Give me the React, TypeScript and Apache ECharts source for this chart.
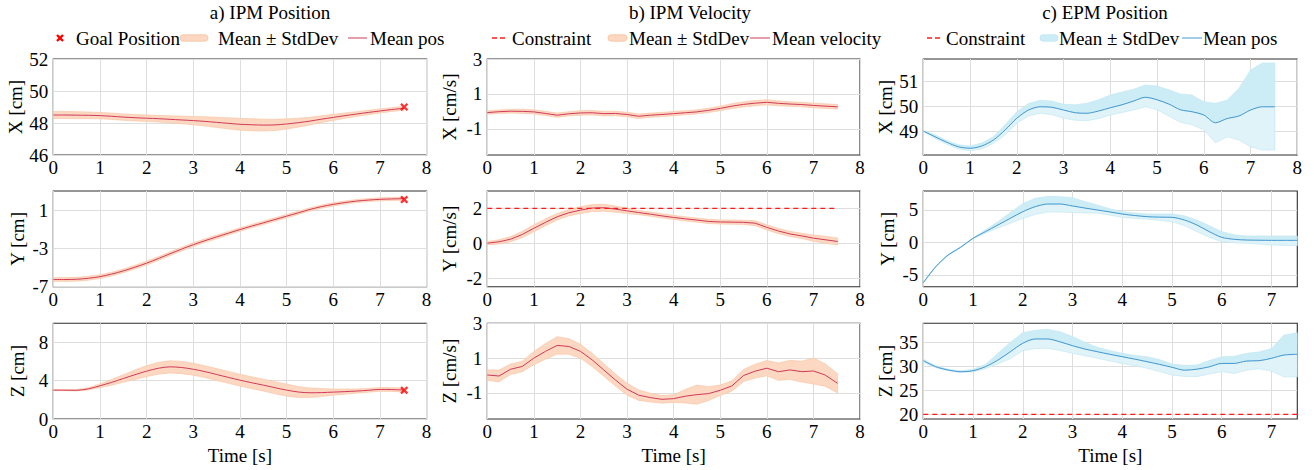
import React, { useEffect, useRef } from 'react';
import * as echarts from 'echarts';

// ---------- data ----------
const T = [0, 0.25, 0.5, 0.75, 1, 1.25, 1.5, 1.75, 2, 2.25, 2.5, 2.75, 3, 3.25, 3.5, 3.75, 4, 4.25, 4.5, 4.75, 5, 5.25, 5.5, 5.75, 6, 6.25, 6.5, 6.75, 7, 7.25, 7.52];

// a) IPM position
const IPM_X_MEAN = [48.5, 48.5, 48.49, 48.48, 48.46, 48.42, 48.37, 48.33, 48.3, 48.27, 48.23, 48.19, 48.15, 48.1, 48.04, 47.98, 47.92, 47.89, 47.87, 47.88, 47.94, 48.02, 48.12, 48.24, 48.35, 48.46, 48.56, 48.66, 48.75, 48.84, 48.92];
const IPM_X_STD = [0.22, 0.22, 0.22, 0.21, 0.2, 0.2, 0.2, 0.2, 0.2, 0.21, 0.22, 0.24, 0.26, 0.29, 0.32, 0.35, 0.37, 0.38, 0.37, 0.35, 0.32, 0.28, 0.24, 0.21, 0.19, 0.17, 0.15, 0.14, 0.13, 0.12, 0.12];
const IPM_Y_MEAN = [-6.25, -6.25, -6.22, -6.12, -5.95, -5.68, -5.35, -4.96, -4.54, -4.06, -3.56, -3.07, -2.61, -2.19, -1.8, -1.41, -1.03, -0.67, -0.33, 0.02, 0.37, 0.72, 1.07, 1.37, 1.6, 1.79, 1.95, 2.05, 2.13, 2.17, 2.2];
const IPM_Y_STD = [0.2, 0.2, 0.2, 0.2, 0.2, 0.2, 0.2, 0.2, 0.2, 0.2, 0.2, 0.2, 0.19, 0.19, 0.19, 0.19, 0.18, 0.18, 0.18, 0.18, 0.18, 0.17, 0.17, 0.17, 0.17, 0.16, 0.16, 0.16, 0.16, 0.16, 0.16];
const IPM_Z_MEAN = [3.02, 3.01, 3.0, 3.15, 3.47, 3.83, 4.23, 4.63, 5.0, 5.3, 5.45, 5.38, 5.2, 4.95, 4.65, 4.35, 4.06, 3.79, 3.54, 3.27, 3.02, 2.82, 2.74, 2.76, 2.81, 2.86, 2.92, 3.0, 3.09, 3.08, 3.02];
const IPM_Z_STD = [0.05, 0.05, 0.07, 0.12, 0.2, 0.3, 0.4, 0.5, 0.57, 0.62, 0.64, 0.64, 0.63, 0.62, 0.62, 0.62, 0.62, 0.62, 0.62, 0.63, 0.63, 0.58, 0.5, 0.42, 0.32, 0.27, 0.22, 0.2, 0.2, 0.2, 0.2];
const GOAL_T = 7.52;
const GOAL_X = 49.0;
const GOAL_Y = 2.1;
const GOAL_Z = 3.0;

// b) IPM velocity
const VEL_X_MEAN = [-0.07, -0.02, 0.01, 0.0, -0.03, -0.12, -0.22, -0.14, -0.09, -0.08, -0.13, -0.12, -0.18, -0.28, -0.22, -0.18, -0.13, -0.08, -0.03, 0.06, 0.17, 0.3, 0.4, 0.47, 0.52, 0.46, 0.42, 0.39, 0.34, 0.3, 0.26];
const VEL_X_STD = [0.1, 0.1, 0.11, 0.12, 0.12, 0.12, 0.12, 0.12, 0.13, 0.13, 0.13, 0.13, 0.13, 0.13, 0.12, 0.12, 0.12, 0.12, 0.12, 0.12, 0.13, 0.14, 0.15, 0.15, 0.15, 0.14, 0.13, 0.13, 0.13, 0.13, 0.13];
const VEL_Y_MEAN = [0.0, 0.08, 0.23, 0.5, 0.86, 1.2, 1.52, 1.75, 1.9, 2.02, 2.04, 1.96, 1.86, 1.76, 1.67, 1.57, 1.48, 1.4, 1.33, 1.25, 1.22, 1.21, 1.2, 1.15, 0.91, 0.7, 0.53, 0.42, 0.29, 0.2, 0.1];
const VEL_Y_STD = [0.1, 0.12, 0.15, 0.18, 0.2, 0.2, 0.18, 0.18, 0.2, 0.2, 0.2, 0.18, 0.15, 0.12, 0.12, 0.12, 0.12, 0.12, 0.12, 0.12, 0.12, 0.12, 0.12, 0.14, 0.15, 0.15, 0.15, 0.15, 0.18, 0.2, 0.2];
const VEL_Z_MEAN = [0.03, -0.03, 0.36, 0.52, 1.0, 1.39, 1.73, 1.67, 1.39, 0.9, 0.32, -0.26, -0.79, -1.13, -1.27, -1.37, -1.33, -1.19, -1.1, -1.04, -0.85, -0.6, 0.0, 0.25, 0.42, 0.22, 0.32, 0.22, 0.26, 0.03, -0.45];
const VEL_Z_STD = [0.3, 0.34, 0.3, 0.3, 0.38, 0.45, 0.5, 0.45, 0.4, 0.38, 0.36, 0.35, 0.34, 0.3, 0.25, 0.22, 0.22, 0.39, 0.55, 0.4, 0.3, 0.3, 0.35, 0.4, 0.44, 0.5, 0.55, 0.6, 0.75, 0.65, 0.55];
const VEL_CONSTRAINT_Y = 2;

// c) EPM position
const EPM_X_MEAN = [49.0, 48.77, 48.55, 48.37, 48.31, 48.4, 48.64, 49.04, 49.51, 49.84, 49.97, 49.95, 49.84, 49.73, 49.71, 49.8, 49.93, 50.05, 50.2, 50.35, 50.25, 50.08, 49.85, 49.77, 49.64, 49.33, 49.5, 49.6, 49.84, 49.97, 49.97];
const EPM_X_HI = [49.02, 48.85, 48.62, 48.45, 48.4, 48.52, 48.77, 49.25, 49.77, 50.1, 50.23, 50.2, 50.07, 50.05, 50.11, 50.25, 50.44, 50.56, 50.67, 50.84, 50.8, 50.65, 50.48, 50.44, 50.17, 50.11, 50.24, 50.7, 51.44, 51.72, 51.72];
const EPM_X_LO = [48.98, 48.7, 48.47, 48.28, 48.21, 48.28, 48.5, 48.85, 49.31, 49.6, 49.71, 49.65, 49.51, 49.43, 49.41, 49.5, 49.64, 49.74, 49.84, 49.97, 49.85, 49.6, 49.35, 49.25, 49.04, 48.53, 48.77, 48.64, 48.37, 48.24, 48.24];
const EPM_Y_MEAN = [-6.18, -3.72, -1.92, -0.74, 0.64, 1.67, 2.69, 3.72, 4.74, 5.51, 5.92, 5.92, 5.62, 5.3, 5.0, 4.7, 4.38, 4.15, 3.97, 3.9, 3.87, 3.46, 2.69, 1.67, 0.79, 0.49, 0.38, 0.35, 0.33, 0.33, 0.33];
const EPM_Y_HI = [-6.1, -3.65, -1.85, -0.65, 0.7, 1.95, 3.2, 4.6, 6.0, 6.8, 7.1, 7.05, 6.9, 6.3, 5.77, 5.2, 4.74, 4.55, 4.4, 4.4, 4.4, 4.1, 3.46, 2.6, 1.67, 1.2, 1.0, 1.0, 1.0, 1.0, 1.0];
const EPM_Y_LO = [-6.25, -3.8, -2.0, -0.82, 0.58, 1.45, 2.2, 2.95, 3.7, 4.3, 4.7, 4.7, 4.6, 4.55, 4.5, 4.2, 3.87, 3.7, 3.6, 3.4, 3.2, 2.6, 1.67, 0.8, 0.13, -0.05, -0.13, -0.25, -0.38, -0.45, -0.5];
const EPM_Z_MEAN = [31.17, 29.92, 29.23, 28.88, 29.08, 29.92, 31.3, 33.04, 34.8, 35.7, 35.7, 35.1, 34.3, 33.6, 33.04, 32.5, 32.0, 31.5, 30.96, 30.4, 29.8, 29.2, 29.4, 29.9, 30.6, 30.6, 31.1, 31.17, 31.67, 32.35, 32.5];
const EPM_Z_HI = [31.5, 30.1, 29.4, 29.05, 29.35, 30.4, 32.7, 35.0, 37.0, 37.5, 37.7, 37.2, 36.2, 35.0, 33.96, 33.3, 32.7, 32.3, 32.0, 31.4, 30.5, 30.2, 30.27, 31.2, 32.0, 32.1, 32.7, 33.0, 33.7, 36.5, 37.0];
const EPM_Z_LO = [30.8, 29.7, 29.05, 28.7, 28.85, 29.5, 30.5, 31.6, 33.25, 33.7, 33.75, 33.3, 32.7, 32.2, 31.67, 31.1, 30.6, 30.1, 29.6, 28.9, 28.2, 27.9, 27.84, 28.4, 28.9, 28.5, 29.2, 29.5, 29.0, 27.8, 27.8];
const EPM_CONSTRAINT_Z = 20;

// ticks
const X_TICKS_8 = [0, 1, 2, 3, 4, 5, 6, 7, 8];
const X_TICKS_7 = [0, 1, 2, 3, 4, 5, 6, 7];
const IPM_X_TICKS = [46, 48, 50, 52];
const IPM_Y_TICKS = [-7, -3, 1];
const IPM_Z_TICKS = [0, 4, 8];
const VEL_X_TICKS = [-1, 1, 3];
const VEL_Y_TICKS = [-2, 0, 2];
const VEL_Z_TICKS = [-1, 1, 3];
const EPM_X_TICKS = [49, 50, 51];
const EPM_Y_TICKS = [-5, 0, 5];
const EPM_Z_TICKS = [20, 25, 30, 35];

const TITLES = ['a) IPM Position', 'b) IPM Velocity', 'c) EPM Position'];

// ---------- styling ----------
const FONT = 'Liberation Serif';
const RED_LINE = '#d03a58';
const RED_FILL = '#fcd7c1';
const RED_EDGE = '#f9c3a0';
const BLUE_LINE = '#4698cf';
const BLUE_FILL_HI = '#cdedf6';
const BLUE_FILL_LO = '#dff3f9';
const BLUE_EDGE = '#bfe6f2';
const CONSTRAINT_COLOR = '#ff1a1a';

const COLS = [
  { left: 53.3, width: 373.3 },
  { left: 487.3, width: 372.7 },
  { left: 923.3, width: 374 },
];
const ROWS = [
  { top: 59, height: 96 },
  { top: 191, height: 95.7 },
  { top: 323.3, height: 95.7 },
];

const X_SYMBOL = 'path://M0,2L2,0L5,3L8,0L10,2L7,5L10,8L8,10L5,7L2,10L0,8L3,5Z';

type Panel = {
  col: number; row: number; mean: number[]; lo: number[]; hi: number[];
  yMin: number; yMax: number; yTicks: number[]; xMax: number; xTicks: number[];
  yName: string; goal?: number; constraint?: number; smooth: number | boolean;
};

const sub = (a: number[], b: number[]) => a.map((v, k) => v - b[k]);
const add = (a: number[], b: number[]) => a.map((v, k) => v + b[k]);

const PANELS: Panel[] = [
  { col: 0, row: 0, mean: IPM_X_MEAN, lo: sub(IPM_X_MEAN, IPM_X_STD), hi: add(IPM_X_MEAN, IPM_X_STD), yMin: 46, yMax: 52, yTicks: IPM_X_TICKS, xMax: 8, xTicks: X_TICKS_8, yName: 'X [cm]', goal: GOAL_X, smooth: 0.3 },
  { col: 0, row: 1, mean: IPM_Y_MEAN, lo: sub(IPM_Y_MEAN, IPM_Y_STD), hi: add(IPM_Y_MEAN, IPM_Y_STD), yMin: -7, yMax: 3, yTicks: IPM_Y_TICKS, xMax: 8, xTicks: X_TICKS_8, yName: 'Y [cm]', goal: GOAL_Y, smooth: 0.3 },
  { col: 0, row: 2, mean: IPM_Z_MEAN, lo: sub(IPM_Z_MEAN, IPM_Z_STD), hi: add(IPM_Z_MEAN, IPM_Z_STD), yMin: 0, yMax: 10, yTicks: IPM_Z_TICKS, xMax: 8, xTicks: X_TICKS_8, yName: 'Z [cm]', goal: GOAL_Z, smooth: 0.3 },
  { col: 1, row: 0, mean: VEL_X_MEAN, lo: sub(VEL_X_MEAN, VEL_X_STD), hi: add(VEL_X_MEAN, VEL_X_STD), yMin: -2.5, yMax: 3, yTicks: VEL_X_TICKS, xMax: 8, xTicks: X_TICKS_8, yName: 'X [cm/s]', smooth: false },
  { col: 1, row: 1, mean: VEL_Y_MEAN, lo: sub(VEL_Y_MEAN, VEL_Y_STD), hi: add(VEL_Y_MEAN, VEL_Y_STD), yMin: -2.5, yMax: 3, yTicks: VEL_Y_TICKS, xMax: 8, xTicks: X_TICKS_8, yName: 'Y [cm/s]', constraint: VEL_CONSTRAINT_Y, smooth: false },
  { col: 1, row: 2, mean: VEL_Z_MEAN, lo: sub(VEL_Z_MEAN, VEL_Z_STD), hi: add(VEL_Z_MEAN, VEL_Z_STD), yMin: -2.5, yMax: 3, yTicks: VEL_Z_TICKS, xMax: 8, xTicks: X_TICKS_8, yName: 'Z [cm/s]', smooth: false },
  { col: 2, row: 0, mean: EPM_X_MEAN, lo: EPM_X_LO, hi: EPM_X_HI, yMin: 48.04, yMax: 51.88, yTicks: EPM_X_TICKS, xMax: 8, xTicks: X_TICKS_8, yName: 'X [cm]', smooth: 0.3 },
  { col: 2, row: 1, mean: EPM_Y_MEAN, lo: EPM_Y_LO, hi: EPM_Y_HI, yMin: -6.8, yMax: 7.92, yTicks: EPM_Y_TICKS, xMax: 7.52, xTicks: X_TICKS_7, yName: 'Y [cm]', smooth: 0.3 },
  { col: 2, row: 2, mean: EPM_Z_MEAN, lo: EPM_Z_LO, hi: EPM_Z_HI, yMin: 19.02, yMax: 38.96, yTicks: EPM_Z_TICKS, xMax: 7.52, xTicks: X_TICKS_7, yName: 'Z [cm]', constraint: EPM_CONSTRAINT_Z, smooth: 0.3 },
];

// band drawn as one polygon through the axis scales (api.coord)
function bandSeries(i: number, lower: number[], upper: number[], fill: string, stroke: string) {
  return {
    type: 'custom', xAxisIndex: i, yAxisIndex: i, silent: true, z: 1,
    data: T.map((t, k) => [t, lower[k], upper[k]]),
    encode: { x: 0, y: [1, 2] },
    renderItem: (params: any, api: any) => {
      if (params.dataIndex !== 0) return { type: 'group', children: [] };
      const pts: number[][] = [];
      for (let k = 0; k < T.length; k++) pts.push(api.coord([T[k], upper[k]]));
      for (let k = T.length - 1; k >= 0; k--) pts.push(api.coord([T[k], lower[k]]));
      return { type: 'polygon', shape: { points: pts }, style: { fill, stroke, lineWidth: 0.6 } };
    },
  };
}

function buildOption() {
  const grid: any[] = [];
  const xAxis: any[] = [];
  const yAxis: any[] = [];
  const series: any[] = [];
  const textStyle = { fontFamily: FONT, fontSize: 19, color: '#000' };

  PANELS.forEach((p, i) => {
    const c = COLS[p.col];
    const r = ROWS[p.row];
    grid.push({ left: c.left, top: r.top, width: c.width, height: r.height, show: true, borderColor: '#2e2e2e', borderWidth: 1.1, z: 0 });
    xAxis.push({
      type: 'value', gridIndex: i, min: 0, max: p.xMax,
      axisLine: { show: false },
      axisTick: { show: false, customValues: p.xTicks },
      axisLabel: { ...textStyle, customValues: p.xTicks, margin: 3 },
      splitLine: { show: true, lineStyle: { color: '#dedede', width: 1 } },
      name: p.row === 2 ? 'Time [s]' : '',
      nameLocation: 'middle', nameGap: 27,
      nameTextStyle: textStyle,
    });
    yAxis.push({
      type: 'value', gridIndex: i, min: p.yMin, max: p.yMax,
      axisLine: { show: false },
      axisTick: { show: false, customValues: p.yTicks },
      axisLabel: { ...textStyle, customValues: p.yTicks, margin: 5 },
      splitLine: { show: true, lineStyle: { color: '#dedede', width: 1 } },
      name: p.yName, nameLocation: 'middle', nameGap: p.col === 1 ? 28 : 26,
      nameTextStyle: textStyle,
    });
    const isBlue = p.col === 2;
    if (isBlue) {
      series.push(bandSeries(i, p.lo, p.mean, BLUE_FILL_LO, BLUE_EDGE));
      series.push(bandSeries(i, p.mean, p.hi, BLUE_FILL_HI, BLUE_EDGE));
    } else {
      series.push(bandSeries(i, p.lo, p.hi, RED_FILL, RED_EDGE));
    }
    series.push({
      type: 'line', name: p.col === 1 ? 'Mean velocity' : 'Mean pos', xAxisIndex: i, yAxisIndex: i, symbol: 'none', silent: true,
      smooth: p.smooth, data: T.map((t, k) => [t, p.mean[k]]),
      lineStyle: { color: isBlue ? BLUE_LINE : RED_LINE, width: 1 }, z: 3,
    });
    if (p.constraint !== undefined) {
      series.push({
        type: 'line', name: 'Constraint', xAxisIndex: i, yAxisIndex: i, symbol: 'none', silent: true,
        data: T.map((t) => [t, p.constraint]),
        lineStyle: { color: CONSTRAINT_COLOR, width: 1.3, type: [5, 4] }, z: 4,
      });
    }
    if (p.goal !== undefined) {
      series.push({
        type: 'scatter', name: 'Goal Position', xAxisIndex: i, yAxisIndex: i, silent: true,
        data: [[GOAL_T, p.goal]], symbol: X_SYMBOL, symbolSize: 8,
        itemStyle: { color: '#ff0000' }, z: 5,
      });
    }
  });

  const LY = 38;
  const legText = (x: number, text: string) => ({ type: 'text', x, y: LY, style: { text, fontFamily: FONT, fontSize: 19, fill: '#000', verticalAlign: 'middle', align: 'left' } });
  const band = (x1: number, x2: number, fill: string, stroke: string) => ({ type: 'rect', shape: { x: x1, y: LY - 3.2, width: x2 - x1, height: 6.4, r: 3 }, style: { fill, stroke, lineWidth: 0.8 } });
  const line = (x1: number, x2: number, stroke: string, dash?: number[]) => ({ type: 'line', shape: { x1, y1: LY, x2, y2: LY }, style: { stroke, lineWidth: dash ? 1.3 : 1, lineDash: dash } });
  const title = (x: number, text: string) => ({ type: 'text', x, y: 12, style: { text, fontFamily: FONT, fontSize: 19, fill: '#000', align: 'center', verticalAlign: 'middle' } });

  const graphic: any[] = [
    title(270, TITLES[0]),
    title(690, TITLES[1]),
    title(1105, TITLES[2]),
    // legend a
    { type: 'line', shape: { x1: 57, y1: LY - 3, x2: 63, y2: LY + 3 }, style: { stroke: '#ff0000', lineWidth: 2.4 } },
    { type: 'line', shape: { x1: 57, y1: LY + 3, x2: 63, y2: LY - 3 }, style: { stroke: '#ff0000', lineWidth: 2.4 } },
    legText(76, 'Goal Position'),
    band(180, 208, RED_FILL, RED_EDGE),
    legText(218, 'Mean ± StdDev'),
    line(348, 367, RED_LINE),
    legText(370, 'Mean pos'),
    // legend b
    line(492, 508, CONSTRAINT_COLOR, [5, 3]),
    legText(512, 'Constraint'),
    band(608, 627, RED_FILL, RED_EDGE),
    legText(629, 'Mean ± StdDev'),
    line(750, 770, RED_LINE),
    legText(772, 'Mean velocity'),
    // legend c
    line(927, 943, CONSTRAINT_COLOR, [5, 3]),
    legText(946, 'Constraint'),
    band(1040, 1058, BLUE_FILL_HI, BLUE_EDGE),
    legText(1059, 'Mean ± StdDev'),
    line(1182, 1202, BLUE_LINE),
    legText(1203, 'Mean pos'),
  ];

  return { animation: false, backgroundColor: '#fff', grid, xAxis, yAxis, series, graphic };
}

export default function App() {
  const ref = useRef<HTMLDivElement>(null);
  useEffect(() => {
    if (!ref.current) return;
    const chart = echarts.init(ref.current, undefined, { renderer: 'svg' });
    chart.setOption(buildOption() as any);
    return () => chart.dispose();
  }, []);
  return <div ref={ref} style={{ position: 'absolute', left: 0, top: 0, width: 1314, height: 470 }} />;
}
